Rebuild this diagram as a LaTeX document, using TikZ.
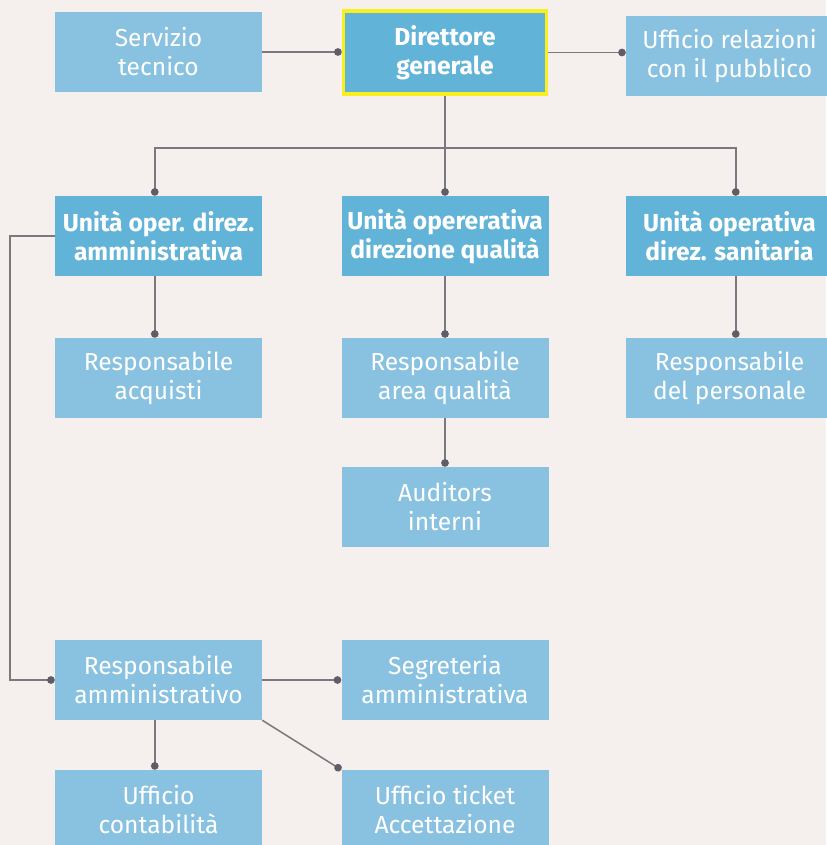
\documentclass[tikz,border=0pt]{standalone}
\usepackage{fontspec}
\setmainfont{Fira Sans}
\usepackage{tikz}
\usetikzlibrary{calc,arrows.meta}
\definecolor{sfondo}{HTML}{F5F0EE}
\definecolor{scuro}{HTML}{62B3D8}
\definecolor{chiaro}{HTML}{88C2E0}
\definecolor{giallo}{HTML}{FAEE1E}
\definecolor{linea}{HTML}{7B7880}
\definecolor{punto}{HTML}{5F5D66}
\tikzset{
	box/.style={rectangle, inner sep=0pt, minimum width=6.21cm, minimum height=2.4cm, align=center, text=white, font=\fontsize{21}{24.7}\selectfont},
	boxa/.style={box, fill=scuro, font=\fontsize{21}{24.7}\selectfont\bfseries},
	boxb/.style={box, fill=chiaro},
	conn/.style={draw=linea, line width=1.3pt, -{Circle[length=6.5pt,color=punto]}}
}

\begin{document}
\begin{tikzpicture}[x=0.03cm, y=-0.03cm]
		%%%%% START %%%%%
		
		\fill[sfondo] (0, 0) rectangle (826, 845);
		\useasboundingbox (0, 0) rectangle (826, 845);
		
		\node[boxb] (st) at (158.5, 52) {Servizio\\tecnico};
		\node[boxa, draw=giallo, line width=3pt, minimum width=6.09cm, minimum height=2.49cm] (dg) at (445, 52.5) {Direttore\\generale};
		\node[boxb] (ur) at (729.5, 56) {Ufficio relazioni\\con il pubblico};
		
		\node[boxa] (ua) at (158.5, 236) {Unità oper. direz.\\amministrativa};
		\node[boxa] (uq) at (445, 236) {Unità opererativa\\direzione qualità};
		\node[boxa] (us) at (729.5, 236) {Unità operativa\\direz. sanitaria};
		
		\node[boxb] (ra) at (158.5, 378) {Responsabile\\acquisti};
		\node[boxb] (rq) at (445, 378) {Responsabile\\area qualità};
		\node[boxb] (rp) at (729.5, 378) {Responsabile\\del personale};
		
		\node[boxb] (ai) at (445, 507) {Auditors\\interni};
		
		\node[boxb] (rm) at (158.5, 680) {Responsabile\\amministrativo};
		\node[boxb] (sa) at (445, 680) {Segreteria\\amministrativa};
		
		\node[boxb] (uc) at (158.5, 810) {Ufficio\\contabilità};
		\node[boxb] (ut) at (445, 810) {Ufficio ticket\\Accettazione};
		
		\coordinate (snodo) at (445, 148);
		\coordinate (ang) at (10, 236);
		
		\draw[conn] (st.east) -- (st.east -| dg.west);
		\draw[conn] (dg.east) -- (dg.east -| ur.west);
		
		\draw[draw=linea, line width=1.3pt] (dg.south) -- (snodo);
		\draw[conn] (snodo) -| ($(ua.north west)+(100, 0)$);
		\draw[conn] (snodo) -- (uq.north);
		\draw[conn] (snodo) -| ($(us.north west)+(110, 0)$);
		
		\draw[conn] ($(ua.south west)+(100, 0)$) -- ($(ra.north west)+(100, 0)$);
		\draw[conn] (uq.south) -- (rq.north);
		\draw[conn] ($(us.south west)+(110, 0)$) -- ($(rp.north west)+(110, 0)$);
		\draw[conn] (rq.south) -- (ai.north);
		
		\draw[conn] (ua.west) -- (ang) |- (rm.west);
		\draw[conn] (rm.east) -- (sa.west);
		\draw[conn] ($(rm.south west)+(100, 0)$) -- ($(uc.north west)+(100, 0)$);
		\draw[conn] (rm.south east) -- (ut.north west);
		
		%%%%% END %%%%%
	\end{tikzpicture}
\end{document}
